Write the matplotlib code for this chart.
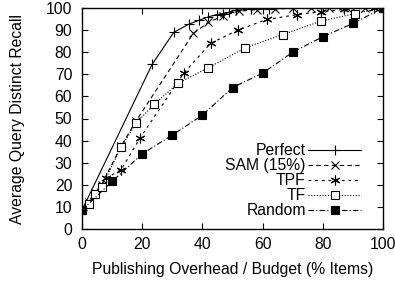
import matplotlib
matplotlib.use('Agg')
import matplotlib.pyplot as plt

plt.rcParams['font.family'] = ['Liberation Sans', 'DejaVu Sans']

# values
perfect_x = [0, 23.3, 30.5, 35.5, 39, 42, 44.7, 47, 48.7, 51, 56, 62, 70, 80, 90, 100]
perfect_y = [8.5, 74.5, 89, 92.7, 94.5, 96, 97, 97.5, 98, 99, 99.5, 99.7, 99.8, 100, 100, 100]

sam_x = [0, 2.4, 4.4, 6.5, 13, 18, 37, 42, 47, 52, 58, 64, 70, 76, 82, 88, 94, 100]
sam_y = [8.5, 12, 16.5, 20, 37.5, 49, 88.5, 93.5, 96.5, 98.5, 99.3, 99.6, 99.8, 100, 100, 100, 100, 100]

tpf_x = [0, 8, 13, 19.2, 33.8, 42.7, 51.8, 61.3, 71.5, 79.3, 87, 97, 100]
tpf_y = [8.5, 23, 26.8, 41, 70.5, 84, 90, 94.8, 97, 98.3, 99.4, 100, 100]

tf_x = [0, 2.3, 4.3, 6.5, 13, 18, 24, 32, 42, 54.3, 66.7, 79.3, 90.7, 100]
tf_y = [8.5, 11.5, 16, 19, 37, 48, 56.5, 66, 73, 82, 88, 94, 97.5, 100]

random_x = [0, 10, 20, 30, 40, 50, 60, 70, 80, 90, 100]
random_y = [8.5, 21.5, 34, 42.5, 51.5, 64, 70.5, 80, 87, 93, 100]

fs = 11.3

fig = plt.figure(figsize=(3.95, 2.83), dpi=100)
ax = fig.add_axes([82 / 395, 1 - 229 / 283, 301 / 395, 221 / 283])

lw = 0.8
ax.plot(perfect_x, perfect_y, color='black', lw=lw, ls='-', marker='+',
        ms=7, mew=0.8, label='Perfect')
ax.plot(sam_x, sam_y, color='black', lw=lw, ls=(0, (4, 3)), marker='x',
        ms=5.5, mew=0.8, label='SAM (15%)')
ax.plot(tpf_x, tpf_y, color='black', lw=lw, ls=(0, (2.5, 3.5)), marker=(6, 2, 0),
        ms=7, mew=0.8, label='TPF')
ax.plot(tf_x, tf_y, color='black', lw=lw, ls=(0, (1, 1.5)), marker='s',
        ms=5.3, mew=0.8, mfc='white', label='TF')
ax.plot(random_x, random_y, color='black', lw=lw, ls=(0, (5, 2, 1, 2)), marker='s',
        ms=6, mew=0.8, mfc='black', label='Random')

ax.set_xlim(0, 100)
ax.set_ylim(0, 100)
ax.set_xticks(range(0, 101, 20))
ax.set_yticks(range(0, 101, 10))
ax.tick_params(direction='in', top=True, right=True, length=4, width=0.8,
               labelsize=fs)
ax.tick_params(axis='x', pad=6)
ax.tick_params(axis='y', pad=7)
for s in ax.spines.values():
    s.set_linewidth(1.0)

ax.set_xlabel('Publishing Overhead / Budget (% Items)', fontsize=fs, labelpad=7)
ax.set_ylabel('Average Query Distinct Recall', fontsize=fs, labelpad=15)

ax.legend(loc='lower right', frameon=False, markerfirst=False, fontsize=fs,
          handlelength=3.4, handletextpad=0.15, labelspacing=0.0,
          borderaxespad=0.3, bbox_to_anchor=(0.965, 0.0))

fig.savefig('out.png', dpi=100)
